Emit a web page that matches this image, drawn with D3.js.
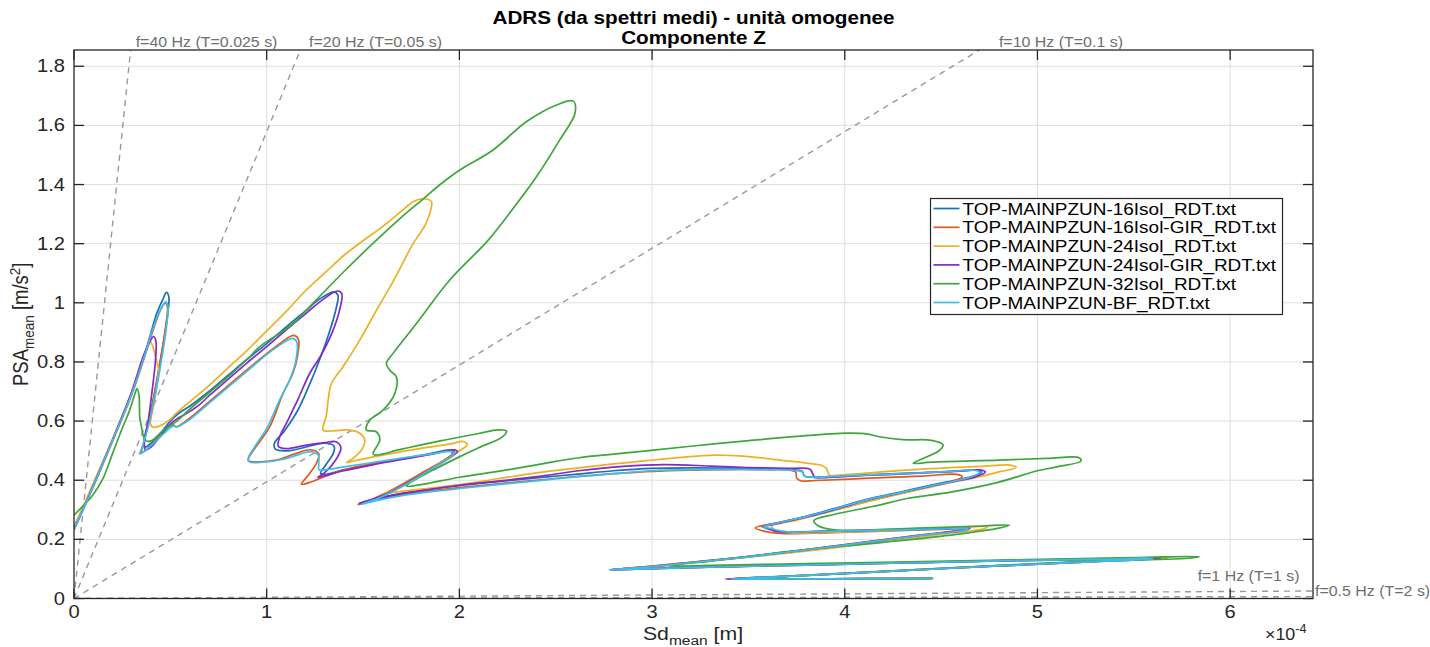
<!DOCTYPE html>
<html><head><meta charset="utf-8">
<script src="https://cdn.jsdelivr.net/npm/d3@7"></script>
<style>
body{margin:0;background:#fff;}
svg{display:block;}
text{font-family:"Liberation Sans",Arial,Helvetica,sans-serif;}
</style></head>
<body><svg id="chart" width="1430" height="647"></svg>
<script>
// ---------------- DATA ----------------
// Sd values are in units of 1e-4 m, PSA in m/s^2
const xTicks = [0,1,2,3,4,5,6];
const xTickLabels = ["0","1","2","3","4","5","6"];
const yTicks = [0,0.2,0.4,0.6,0.8,1,1.2,1.4,1.6,1.8];
const yTickLabels = ["0","0.2","0.4","0.6","0.8","1","1.2","1.4","1.6","1.8"];

const seriesNames = [
  "TOP-MAINPZUN-16Isol_RDT.txt",
  "TOP-MAINPZUN-16Isol-GIR_RDT.txt",
  "TOP-MAINPZUN-24Isol_RDT.txt",
  "TOP-MAINPZUN-24Isol-GIR_RDT.txt",
  "TOP-MAINPZUN-32Isol_RDT.txt",
  "TOP-MAINPZUN-BF_RDT.txt"
];

const s16Isol = [[0,0.243],[0.05,0.31],[0.1,0.38],[0.2,0.535],[0.3,0.695],[0.38,0.855],[0.43,0.965],[0.46,1.01],[0.48,1.035],[0.492,1.02],[0.488,0.97],[0.465,0.87],[0.43,0.74],[0.395,0.62],[0.365,0.54],[0.368,0.512],[0.40,0.525],[0.45,0.56],[0.50,0.60],[0.55,0.63],[0.60,0.65],[0.70,0.70],[0.80,0.755],[0.90,0.81],[1.00,0.862],[1.10,0.918],[1.20,0.972],[1.28,1.015],[1.35,1.037],[1.37,1.025],[1.36,0.98],[1.32,0.89],[1.27,0.80],[1.22,0.72],[1.16,0.635],[1.09,0.565],[1.04,0.525],[1.045,0.505],[1.12,0.50],[1.22,0.515],[1.30,0.525],[1.35,0.515],[1.345,0.49],[1.31,0.455],[1.28,0.423],[1.30,0.42],[1.40,0.435],[1.55,0.455],[1.70,0.472],[1.85,0.49],[1.95,0.503],[1.975,0.497],[1.94,0.475],[1.85,0.44],[1.72,0.39],[1.60,0.35],[1.52,0.327],[1.485,0.322],[1.52,0.33],[1.65,0.35],[1.80,0.366],[2.00,0.382],[2.20,0.395],[2.40,0.408],[2.60,0.42],[2.80,0.432],[3.00,0.44],[3.20,0.442],[3.40,0.441],[3.60,0.439],[3.72,0.436],[3.78,0.43],[3.79,0.415],[3.83,0.41],[4.00,0.416],[4.30,0.423],[4.55,0.43],[4.68,0.434],[4.71,0.428],[4.66,0.412],[4.50,0.39],[4.30,0.362],[4.10,0.333],[3.95,0.305],[3.80,0.278],[3.65,0.256],[3.57,0.244],[3.60,0.236],[3.68,0.226],[3.90,0.228],[4.20,0.232],[4.50,0.236],[4.64,0.238],[4.62,0.232],[4.40,0.215],[4.10,0.19],[3.80,0.165],[3.50,0.142],[3.20,0.122],[2.95,0.106],[2.79,0.098],[2.95,0.101],[3.30,0.107],[3.80,0.114],[4.30,0.121],[4.80,0.128],[5.30,0.133],[5.58,0.137],[5.62,0.135],[5.30,0.126],[4.80,0.111],[4.20,0.092],[3.70,0.076],[3.40,0.066],[3.70,0.066],[4.10,0.067],[4.45,0.068]];

const s16IsolGIR = [[0,0.235],[0.05,0.305],[0.1,0.378],[0.2,0.532],[0.3,0.69],[0.38,0.845],[0.43,0.945],[0.46,0.99],[0.475,1.0],[0.485,0.985],[0.478,0.93],[0.455,0.83],[0.42,0.70],[0.385,0.59],[0.355,0.51],[0.35,0.493],[0.38,0.505],[0.43,0.54],[0.48,0.575],[0.514,0.587],[0.531,0.58],[0.56,0.59],[0.62,0.62],[0.70,0.665],[0.80,0.72],[0.90,0.775],[1.00,0.828],[1.08,0.868],[1.14,0.89],[1.165,0.876],[1.16,0.82],[1.135,0.76],[1.085,0.694],[1.016,0.581],[0.95,0.518],[0.91,0.48],[0.905,0.466],[0.95,0.462],[1.05,0.468],[1.15,0.49],[1.225,0.503],[1.27,0.49],[1.26,0.46],[1.22,0.42],[1.18,0.386],[1.22,0.392],[1.35,0.425],[1.50,0.45],[1.70,0.472],[1.85,0.488],[1.95,0.499],[1.965,0.49],[1.92,0.468],[1.82,0.43],[1.70,0.385],[1.58,0.345],[1.50,0.322],[1.475,0.318],[1.52,0.326],[1.65,0.345],[1.80,0.36],[2.00,0.375],[2.20,0.388],[2.40,0.40],[2.60,0.412],[2.80,0.422],[3.00,0.43],[3.20,0.434],[3.40,0.436],[3.60,0.436],[3.70,0.435],[3.745,0.428],[3.75,0.408],[3.77,0.398],[3.85,0.399],[4.10,0.406],[4.40,0.414],[4.58,0.42],[4.61,0.412],[4.55,0.395],[4.40,0.372],[4.20,0.342],[4.00,0.308],[3.80,0.277],[3.62,0.252],[3.535,0.239],[3.58,0.228],[3.67,0.22],[3.90,0.222],[4.20,0.228],[4.50,0.234],[4.63,0.237],[4.60,0.231],[4.38,0.214],[4.08,0.189],[3.78,0.164],[3.48,0.141],[3.18,0.121],[2.93,0.105],[2.78,0.097],[2.95,0.100],[3.30,0.106],[3.80,0.113],[4.30,0.120],[4.80,0.127],[5.30,0.132],[5.56,0.136],[5.60,0.134],[5.30,0.125],[4.80,0.110],[4.20,0.091],[3.70,0.075],[3.40,0.066],[3.70,0.066],[4.10,0.067],[4.44,0.068]];

const s24Isol = [[0,0.24],[0.05,0.315],[0.1,0.39],[0.2,0.54],[0.3,0.70],[0.35,0.80],[0.38,0.85],[0.396,0.869],[0.41,0.85],[0.43,0.80],[0.439,0.773],[0.43,0.72],[0.415,0.66],[0.40,0.61],[0.396,0.592],[0.41,0.579],[0.44,0.582],[0.497,0.604],[0.53,0.626],[0.60,0.665],[0.70,0.72],[0.80,0.78],[0.90,0.84],[1.00,0.905],[1.10,0.97],[1.20,1.04],[1.30,1.10],[1.40,1.16],[1.50,1.21],[1.60,1.257],[1.70,1.31],[1.76,1.342],[1.812,1.352],[1.855,1.342],[1.845,1.30],[1.82,1.26],[1.76,1.20],[1.66,1.077],[1.57,0.975],[1.483,0.874],[1.396,0.784],[1.336,0.727],[1.319,0.671],[1.31,0.62],[1.293,0.57],[1.35,0.567],[1.414,0.57],[1.483,0.559],[1.509,0.536],[1.495,0.505],[1.45,0.475],[1.414,0.46],[1.45,0.465],[1.60,0.485],[1.80,0.508],[1.95,0.522],[2.02,0.531],[2.04,0.52],[1.99,0.495],[1.88,0.45],[1.76,0.40],[1.65,0.365],[1.587,0.35],[1.65,0.358],[1.80,0.37],[2.00,0.385],[2.20,0.405],[2.40,0.425],[2.62,0.442],[2.80,0.455],[2.97,0.466],[3.15,0.477],[3.32,0.485],[3.50,0.48],[3.663,0.468],[3.80,0.458],[3.88,0.45],[3.905,0.44],[3.92,0.418],[3.98,0.418],[4.355,0.436],[4.70,0.447],[4.86,0.451],[4.89,0.443],[4.80,0.428],[4.70,0.412],[4.50,0.385],[4.30,0.355],[4.10,0.325],[3.90,0.29],[3.75,0.265],[3.62,0.245],[3.64,0.232],[3.72,0.223],[4.00,0.225],[4.40,0.233],[4.74,0.242],[4.72,0.236],[4.50,0.217],[4.20,0.192],[3.90,0.168],[3.55,0.143],[3.25,0.123],[2.98,0.107],[2.80,0.098],[2.97,0.101],[3.30,0.107],[3.80,0.114],[4.30,0.121],[4.80,0.128],[5.30,0.133],[5.65,0.138],[5.68,0.136],[5.30,0.126],[4.80,0.111],[4.20,0.092],[3.70,0.076],[3.40,0.066],[3.70,0.066],[4.10,0.067],[4.45,0.068]];

const s24IsolGIR = [[0,0.233],[0.05,0.305],[0.1,0.382],[0.2,0.537],[0.3,0.70],[0.36,0.82],[0.395,0.87],[0.413,0.886],[0.425,0.87],[0.422,0.80],[0.405,0.70],[0.385,0.60],[0.365,0.525],[0.37,0.503],[0.40,0.512],[0.45,0.55],[0.50,0.59],[0.54,0.61],[0.585,0.626],[0.65,0.655],[0.70,0.685],[0.80,0.742],[0.90,0.798],[1.00,0.852],[1.10,0.908],[1.20,0.962],[1.30,1.015],[1.37,1.04],[1.39,1.03],[1.38,0.98],[1.34,0.90],[1.28,0.82],[1.223,0.761],[1.16,0.67],[1.10,0.59],[1.068,0.547],[1.06,0.515],[1.10,0.507],[1.20,0.518],[1.30,0.527],[1.36,0.53],[1.385,0.51],[1.36,0.47],[1.30,0.425],[1.265,0.41],[1.30,0.415],[1.40,0.432],[1.55,0.452],[1.70,0.47],[1.85,0.487],[1.97,0.503],[1.99,0.497],[1.95,0.476],[1.86,0.44],[1.73,0.39],[1.60,0.348],[1.51,0.327],[1.48,0.322],[1.52,0.328],[1.65,0.348],[1.80,0.364],[2.00,0.383],[2.20,0.397],[2.40,0.412],[2.62,0.432],[2.85,0.447],[3.06,0.453],[3.30,0.448],[3.49,0.443],[3.70,0.44],[3.82,0.437],[3.835,0.42],[3.845,0.41],[3.90,0.409],[4.10,0.416],[4.36,0.423],[4.60,0.431],[4.70,0.435],[4.73,0.428],[4.68,0.412],[4.52,0.39],[4.32,0.362],[4.12,0.333],[3.97,0.305],[3.82,0.278],[3.67,0.256],[3.59,0.243],[3.62,0.232],[3.655,0.226],[3.90,0.227],[4.20,0.231],[4.50,0.235],[4.65,0.238],[4.63,0.232],[4.40,0.214],[4.10,0.189],[3.80,0.164],[3.50,0.141],[3.20,0.121],[2.95,0.105],[2.78,0.097],[2.95,0.100],[3.30,0.106],[3.80,0.113],[4.30,0.120],[4.80,0.127],[5.30,0.132],[5.60,0.137],[5.64,0.135],[5.30,0.125],[4.80,0.110],[4.20,0.091],[3.70,0.075],[3.38,0.066],[3.70,0.066],[4.10,0.067],[4.45,0.068]];

const s32Isol = [[0,0.282],[0.05,0.315],[0.1,0.352],[0.15,0.405],[0.2,0.49],[0.25,0.575],[0.289,0.637],[0.315,0.69],[0.327,0.71],[0.337,0.69],[0.34,0.64],[0.341,0.615],[0.35,0.58],[0.36,0.55],[0.372,0.534],[0.40,0.533],[0.45,0.56],[0.50,0.585],[0.531,0.598],[0.60,0.64],[0.70,0.695],[0.80,0.75],[0.90,0.81],[0.964,0.852],[1.05,0.89],[1.137,0.93],[1.25,1.005],[1.40,1.105],[1.55,1.2],[1.70,1.29],[1.81,1.35],[1.90,1.40],[2.002,1.449],[2.175,1.517],[2.349,1.613],[2.505,1.669],[2.591,1.682],[2.60,1.641],[2.52,1.55],[2.40,1.426],[2.28,1.32],[2.15,1.212],[1.95,1.077],[1.777,0.93],[1.656,0.829],[1.621,0.795],[1.639,0.772],[1.673,0.75],[1.665,0.693],[1.604,0.637],[1.535,0.603],[1.517,0.57],[1.569,0.564],[1.587,0.536],[1.552,0.49],[1.561,0.485],[1.70,0.505],[1.90,0.533],[2.10,0.558],[2.20,0.57],[2.245,0.566],[2.22,0.545],[2.10,0.51],[2.00,0.479],[1.85,0.43],[1.74,0.39],[1.725,0.38],[1.80,0.385],[2.00,0.41],[2.20,0.43],[2.40,0.452],[2.62,0.476],[2.80,0.488],[2.97,0.499],[3.20,0.515],[3.49,0.533],[3.75,0.548],[4.01,0.559],[4.12,0.556],[4.18,0.547],[4.30,0.537],[4.45,0.535],[4.51,0.52],[4.49,0.50],[4.43,0.48],[4.355,0.457],[4.45,0.461],[4.80,0.468],[5.05,0.474],[5.216,0.476],[5.226,0.465],[5.10,0.445],[5.00,0.432],[4.79,0.392],[4.55,0.36],[4.33,0.339],[4.16,0.313],[3.95,0.285],[3.84,0.264],[3.86,0.247],[3.947,0.232],[4.37,0.238],[4.70,0.245],[4.855,0.248],[4.80,0.238],[4.58,0.217],[4.20,0.19],[3.74,0.161],[3.31,0.127],[3.08,0.11],[3.30,0.112],[3.80,0.118],[4.40,0.125],[5.00,0.132],[5.50,0.138],[5.84,0.142],[5.80,0.137],[5.30,0.127],[4.80,0.112],[4.30,0.095],[3.80,0.078],[3.45,0.067],[3.80,0.066],[4.20,0.067],[4.46,0.068]];

const sBF = [[0,0.232],[0.05,0.305],[0.1,0.38],[0.2,0.535],[0.3,0.693],[0.38,0.85],[0.43,0.95],[0.46,0.99],[0.475,1.003],[0.487,0.99],[0.482,0.93],[0.46,0.83],[0.425,0.70],[0.385,0.58],[0.35,0.505],[0.341,0.489],[0.37,0.50],[0.42,0.53],[0.47,0.56],[0.514,0.583],[0.54,0.581],[0.557,0.587],[0.60,0.605],[0.70,0.66],[0.80,0.715],[0.90,0.77],[1.00,0.825],[1.08,0.862],[1.133,0.88],[1.155,0.87],[1.15,0.80],[1.12,0.74],[1.07,0.675],[1.00,0.575],[0.94,0.515],[0.905,0.475],[0.91,0.462],[0.98,0.461],[1.08,0.47],[1.16,0.485],[1.225,0.497],[1.268,0.485],[1.27,0.455],[1.272,0.435],[1.30,0.435],[1.40,0.445],[1.55,0.46],[1.70,0.475],[1.85,0.488],[1.96,0.497],[1.975,0.49],[1.93,0.468],[1.84,0.432],[1.72,0.385],[1.60,0.345],[1.52,0.325],[1.49,0.318],[1.53,0.325],[1.65,0.342],[1.80,0.357],[2.00,0.372],[2.20,0.385],[2.40,0.398],[2.62,0.412],[2.80,0.422],[3.007,0.432],[3.20,0.436],[3.35,0.437],[3.55,0.436],[3.72,0.434],[3.78,0.428],[3.79,0.414],[3.83,0.41],[4.00,0.415],[4.30,0.422],[4.55,0.43],[4.68,0.433],[4.70,0.427],[4.65,0.41],[4.50,0.388],[4.30,0.36],[4.10,0.331],[3.95,0.303],[3.80,0.277],[3.65,0.255],[3.58,0.243],[3.62,0.236],[3.69,0.226],[3.90,0.227],[4.20,0.231],[4.50,0.235],[4.64,0.237],[4.62,0.231],[4.40,0.214],[4.10,0.189],[3.80,0.164],[3.50,0.141],[3.20,0.121],[2.95,0.105],[2.78,0.097],[2.95,0.100],[3.30,0.106],[3.80,0.113],[4.30,0.120],[4.80,0.127],[5.30,0.132],[5.58,0.136],[5.60,0.134],[5.30,0.125],[4.80,0.110],[4.20,0.091],[3.70,0.075],[3.41,0.066],[3.70,0.066],[4.10,0.067],[4.45,0.068]];

const seriesData = [s16Isol, s16IsolGIR, s24Isol, s24IsolGIR, s32Isol, sBF];

// reference frequency lines PSA = (2*pi*f)^2 * Sd
const refFreqs = [40, 20, 10, 1, 0.5];
const refLabels = ["f=40 Hz (T=0.025 s)","f=20 Hz (T=0.05 s)","f=10 Hz (T=0.1 s)","f=1 Hz (T=1 s)","f=0.5 Hz (T=2 s)"];

const titleLines = ["ADRS (da spettri medi) - unità omogenee","Componente Z"];

// ---------------- STYLE / LAYOUT ----------------
const colors = ["#1b6fb8","#dc5a1c","#eeb023","#8428c8","#3ea63b","#3dbdec"];
const SX = 1.15; // horizontal stretch of glyphs in the reference
const W = 1430, H = 647;
const L = 74, R = 1313, T = 50, B = 598.5;
const x = d3.scaleLinear().domain([0, 6.43]).range([L, R]);
const y = d3.scaleLinear().domain([0, 1.855]).range([B, T]);
const SDUNIT = 1e-4;

const svg = d3.select("#chart");
svg.append("rect").attr("width",W).attr("height",H).attr("fill","#fff");

function stext(g, px, py, str, o) {
  o = o || {};
  const t = g.append("text")
    .attr("transform", `translate(${px},${py}) scale(${o.sx||SX},1)`)
    .attr("text-anchor", o.anchor || "start")
    .attr("font-size", o.size || 17)
    .attr("fill", o.fill || "#262626");
  if (o.weight) t.attr("font-weight", o.weight);
  t.text(str);
  return t;
}

svg.append("defs").append("clipPath").attr("id","plotclip")
  .append("rect").attr("x",L).attr("y",T).attr("width",R-L).attr("height",B-T);

// grid
const grid = svg.append("g").attr("stroke","#dedede").attr("stroke-width",1);
grid.selectAll(".gx").data(xTicks.slice(1)).join("line")
  .attr("x1",d=>x(d)).attr("x2",d=>x(d)).attr("y1",T).attr("y2",B);
grid.selectAll(".gy").data(yTicks.slice(1)).join("line")
  .attr("x1",L).attr("x2",R).attr("y1",d=>y(d)).attr("y2",d=>y(d));

// reference frequency lines
const refG = svg.append("g").attr("clip-path","url(#plotclip)");
const xMax = x.domain()[1], yMax = y.domain()[1];
refFreqs.forEach((f) => {
  const k = Math.pow(2*Math.PI*f,2)*SDUNIT; // PSA per Sd-unit
  const sdEnd = Math.min(xMax, yMax/k);
  refG.append("line")
    .attr("x1",x(0)).attr("y1",y(0))
    .attr("x2",x(sdEnd)).attr("y2",y(sdEnd*k))
    .attr("stroke","#999").attr("stroke-width",1.4)
    .attr("stroke-dasharray","6,5");
});

// series lines
const line = d3.line().x(d=>x(d[0])).y(d=>y(d[1])).curve(d3.curveCatmullRom.alpha(0.5));
const lg = svg.append("g").attr("clip-path","url(#plotclip)");
seriesData.forEach((s,i)=>{
  lg.append("path").attr("d", line(s)).attr("fill","none")
    .attr("stroke", colors[i]).attr("stroke-width",1.7)
    .attr("stroke-linejoin","round");
});

// axes box and ticks
const ax = svg.append("g");
ax.append("rect").attr("x",L).attr("y",T).attr("width",R-L).attr("height",B-T)
  .attr("fill","none").attr("stroke","#262626").attr("stroke-width",1.3);
const tick = 10;
ax.selectAll(".tb").data(xTicks).join("line")
  .attr("x1",d=>x(d)).attr("x2",d=>x(d)).attr("y1",B).attr("y2",B-tick)
  .attr("stroke","#262626").attr("stroke-width",1.3);
ax.selectAll(".tt").data(xTicks).join("line")
  .attr("x1",d=>x(d)).attr("x2",d=>x(d)).attr("y1",T).attr("y2",T+tick)
  .attr("stroke","#262626").attr("stroke-width",1.3);
ax.selectAll(".tl").data(yTicks).join("line")
  .attr("x1",L).attr("x2",L+tick).attr("y1",d=>y(d)).attr("y2",d=>y(d))
  .attr("stroke","#262626").attr("stroke-width",1.3);
ax.selectAll(".tr").data(yTicks).join("line")
  .attr("x1",R).attr("x2",R-tick).attr("y1",d=>y(d)).attr("y2",d=>y(d))
  .attr("stroke","#262626").attr("stroke-width",1.3);

xTicks.forEach((v,i)=> stext(ax, x(v), B+19, xTickLabels[i], {anchor:"middle", size:17.5}));
yTicks.forEach((v,i)=> stext(ax, L-9, y(v)+6, yTickLabels[i], {anchor:"end", size:17.5}));

// x exponent
const ex = stext(ax, 1265, 640, "×10", {size:17, sx:1.05});
ex.append("tspan").attr("dy",-7).attr("font-size",12).text("-4");

// x label
const xl = stext(svg, 693, 640, "Sd", {anchor:"middle", size:18.5});
xl.append("tspan").attr("dy",5).attr("font-size",13.5).text("mean");
xl.append("tspan").attr("dy",-5).text(" [m]");

// y label (rotated)
const yl = svg.append("text")
  .attr("transform", `translate(28,${(T+B)/2}) rotate(-90) scale(1,${SX})`)
  .attr("text-anchor","middle").attr("font-size",18.5).attr("fill","#262626");
yl.append("tspan").text("PSA");
yl.append("tspan").attr("dy",5).attr("font-size",13.5).text("mean");
yl.append("tspan").attr("dy",-5).text(" [m/s");
yl.append("tspan").attr("dy",-7).attr("font-size",13.5).text("2");
yl.append("tspan").attr("dy",7).text("]");

// title
stext(svg, (L+R)/2, 24, titleLines[0], {anchor:"middle", size:18, weight:"bold", fill:"#000"});
stext(svg, (L+R)/2, 44, titleLines[1], {anchor:"middle", size:18, weight:"bold", fill:"#000"});

// reference labels
const labG = svg.append("g");
const refColor = "#6e6e6e";
// anchors in data units (Sd, PSA) for labels
const refLabelAnchor = [[0.32,1.855],[1.22,1.855],[4.80,1.855],[6.36,0.06],[6.43,0.012]];
refLabels.forEach((s,i)=>{
  const a = refLabelAnchor[i];
  let px = x(a[0]), py;
  let anchor = "start";
  if (i < 3) { py = T - 3; }
  else if (i === 3) { py = y(a[1]); anchor = "end"; }
  else { px = px + 2; py = y(a[1]) + 1; }
  stext(labG, px, py, s, {size:14.5, fill:refColor, anchor, sx:1.1});
});

// legend
const lgX = 930.5, lgY = 198.5, lgW = 352, lgH = 116;
const leg = svg.append("g");
leg.append("rect").attr("x",lgX).attr("y",lgY).attr("width",lgW).attr("height",lgH)
  .attr("fill","#fff").attr("stroke","#262626").attr("stroke-width",1.2);
seriesNames.forEach((n,i)=>{
  const yy = lgY + 10 + i*18.8;
  leg.append("line").attr("x1",lgX+3).attr("x2",lgX+29).attr("y1",yy).attr("y2",yy)
    .attr("stroke",colors[i]).attr("stroke-width",1.7);
  stext(leg, lgX+32, yy+6, n, {size:16.5, fill:"#000"});
});
</script>
</body></html>
